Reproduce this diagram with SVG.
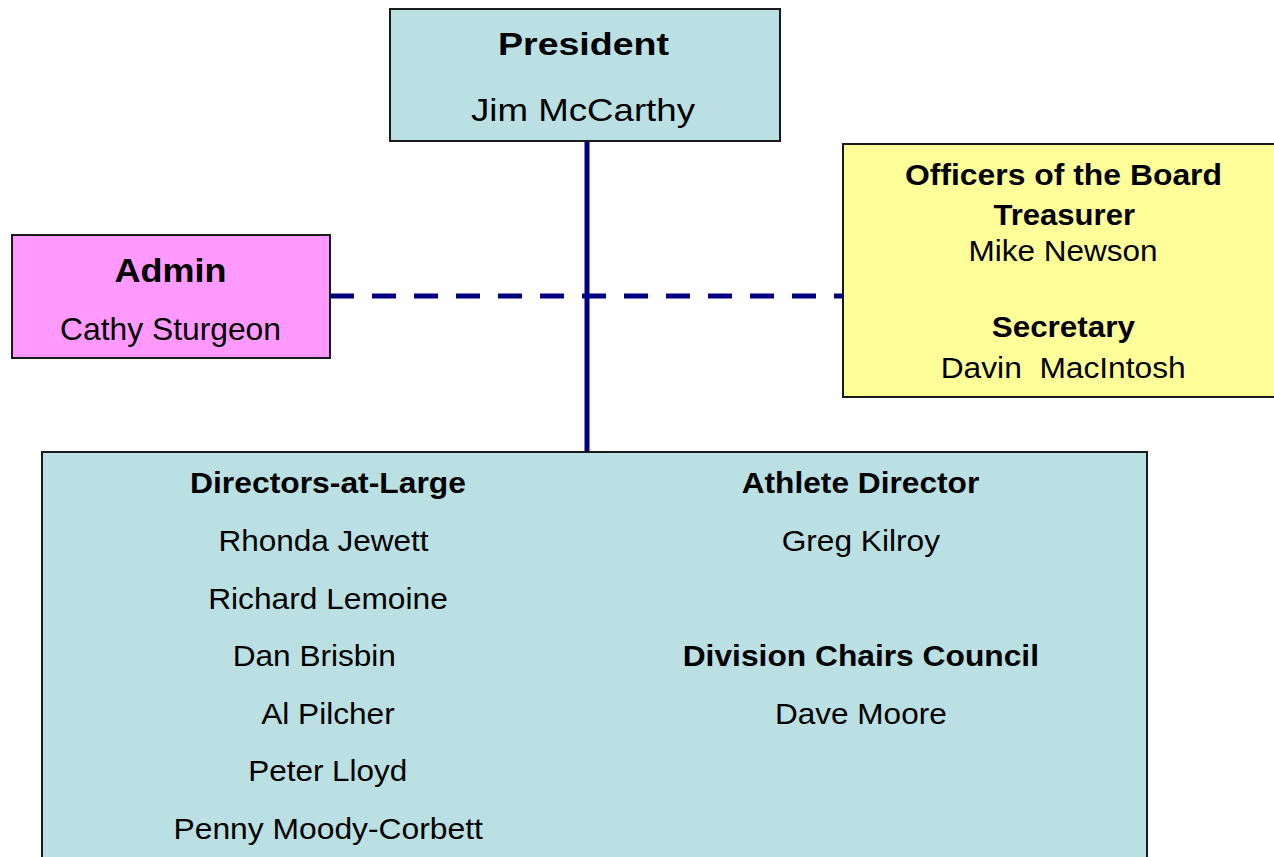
<svg xmlns="http://www.w3.org/2000/svg" width="1274" height="857" viewBox="0 0 1274 857">
<style>
.box{stroke:#1a1a1a;stroke-width:2}
.teal{fill:#BBE0E3}
.pink{fill:#FF99FF}
.yellow{fill:#FFFF99}
text{font-family:"Liberation Sans",Arial,sans-serif;fill:#000}
.b{font-weight:bold}
.solid{stroke:#000080;stroke-width:5;fill:none}
.dash{stroke:#000080;stroke-width:5;fill:none;stroke-dasharray:24 18}
</style>
<rect width="1274" height="857" fill="#fff"/>
<g id="connectors">
<line class="solid" x1="587" y1="141" x2="587" y2="453"/>
<line class="dash" x1="330" y1="296" x2="843" y2="296"/>
</g>
<g id="president">
<rect class="box teal" x="390" y="9" width="390" height="132"/>
<text class="b" x="498" y="54.5" font-size="31.5" textLength="171" lengthAdjust="spacingAndGlyphs">President</text>
<text x="471" y="121" font-size="32" textLength="224" lengthAdjust="spacingAndGlyphs">Jim McCarthy</text>
</g>
<g id="admin">
<rect class="box pink" x="12" y="235" width="318" height="123"/>
<text class="b" x="114.5" y="282" font-size="33" textLength="112" lengthAdjust="spacingAndGlyphs">Admin</text>
<text x="60" y="340" font-size="30.5" textLength="221" lengthAdjust="spacingAndGlyphs">Cathy Sturgeon</text>
</g>
<g id="officers">
<rect class="box yellow" x="843" y="144" width="440" height="253"/>
<text class="b" x="905" y="184.5" font-size="29" textLength="317" lengthAdjust="spacingAndGlyphs">Officers of the Board</text>
<text class="b" x="993.5" y="224.5" font-size="29" textLength="141.5" lengthAdjust="spacingAndGlyphs">Treasurer</text>
<text x="968.5" y="261" font-size="29" textLength="189" lengthAdjust="spacingAndGlyphs">Mike Newson</text>
<text class="b" x="991.7" y="336.5" font-size="29" textLength="143.3" lengthAdjust="spacingAndGlyphs">Secretary</text>
<text x="940.7" y="377.5" font-size="29" textLength="245" lengthAdjust="spacingAndGlyphs" xml:space="preserve">Davin  MacIntosh</text>
</g>
<g id="board">
<rect class="box teal" x="42" y="452" width="1105" height="420"/>
<text class="b" x="190" y="493" font-size="29" textLength="276" lengthAdjust="spacingAndGlyphs">Directors-at-Large</text>
<text x="218.4" y="551" font-size="29" textLength="210.2" lengthAdjust="spacingAndGlyphs">Rhonda Jewett</text>
<text x="208.2" y="609" font-size="29" textLength="239.6" lengthAdjust="spacingAndGlyphs">Richard Lemoine</text>
<text x="232.7" y="666.3" font-size="29" textLength="163.2" lengthAdjust="spacingAndGlyphs">Dan Brisbin</text>
<text x="261.2" y="723.6" font-size="29" textLength="133.5" lengthAdjust="spacingAndGlyphs">Al Pilcher</text>
<text x="248.2" y="781.2" font-size="29" textLength="159.1" lengthAdjust="spacingAndGlyphs">Peter Lloyd</text>
<text x="173.5" y="838.5" font-size="29" textLength="309.4" lengthAdjust="spacingAndGlyphs">Penny Moody-Corbett</text>
<text class="b" x="741.7" y="493.3" font-size="29" textLength="237.6" lengthAdjust="spacingAndGlyphs">Athlete Director</text>
<text x="781.7" y="551" font-size="29" textLength="158.3" lengthAdjust="spacingAndGlyphs">Greg Kilroy</text>
<text class="b" x="682.7" y="665.7" font-size="29" textLength="356.3" lengthAdjust="spacingAndGlyphs">Division Chairs Council</text>
<text x="775" y="724" font-size="29" textLength="171.7" lengthAdjust="spacingAndGlyphs">Dave Moore</text>
</g>
</svg>
